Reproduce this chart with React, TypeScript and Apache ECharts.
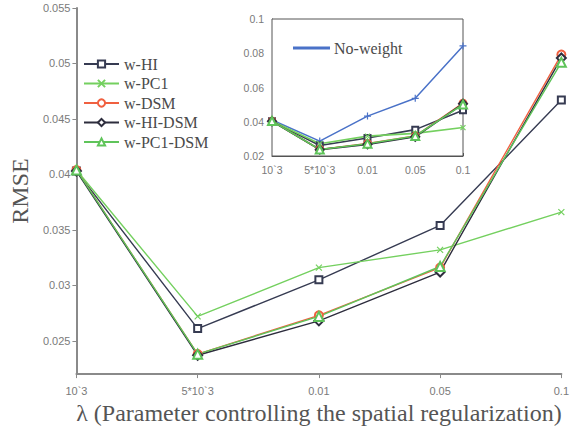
import React, { useEffect, useRef } from "react";
import * as echarts from "echarts";

const xLabels = ["10`3", "5*10`3", "0.01", "0.05", "0.1"];
const wHI = [0.0403, 0.0261, 0.0305, 0.0354, 0.0467];
const wPC1 = [0.0404, 0.0272, 0.0316, 0.0332, 0.0366];
const wDSM = [0.0404, 0.0238, 0.0273, 0.0316, 0.0508];
const wHIDSM = [0.0403, 0.0237, 0.0268, 0.0312, 0.0505];
const wPC1DSM = [0.0404, 0.0238, 0.0272, 0.0317, 0.0501];
const noWeight = [0.041, 0.0287, 0.0433, 0.0537, 0.0843];

const SERIF = "'Liberation Serif', 'Times New Roman', serif";
const SANS = "'Liberation Sans', Arial, sans-serif";

const CROSS = "path://M0,0L10,10M10,0L0,10";
const PLUS = "path://M5,0L5,10M0,5L10,5";

const defs = [
  { name: "w-HI", data: wHI, color: "#363b52", symbol: "emptyRect", size: 7 },
  { name: "w-PC1", data: wPC1, color: "#74d05f", symbol: CROSS, size: 6 },
  { name: "w-DSM", data: wDSM, color: "#f06040", symbol: "emptyCircle", size: 8 },
  { name: "w-HI-DSM", data: wHIDSM, color: "#2d2d3d", symbol: "emptyDiamond", size: 9 },
  { name: "w-PC1-DSM", data: wPC1DSM, color: "#5fc45a", symbol: "emptyTriangle", size: 9 },
];

export default function App() {
  const ref = useRef<HTMLDivElement>(null);
  useEffect(() => {
    const chart = echarts.init(ref.current!, null, { renderer: "svg" });
    const mainSeries = defs.map((d) => ({
      name: d.name,
      type: "line",
      xAxisIndex: 0,
      yAxisIndex: 0,
      data: d.data,
      symbol: d.symbol,
      symbolSize: d.size,
      lineStyle: { color: d.color, width: 1.4 },
      itemStyle: { color: d.color, borderColor: d.color, borderWidth: 1.2 },
      z: 3,
    }));
    const insetSeries = [
      {
        name: "No-weight",
        type: "line",
        xAxisIndex: 1,
        yAxisIndex: 1,
        data: noWeight,
        symbol: PLUS,
        symbolSize: 7,
        lineStyle: { color: "#4a72c8", width: 1.5 },
        itemStyle: { color: "#4a72c8", borderColor: "#4a72c8", borderWidth: 1.2 },
        z: 5,
      },
      ...defs.map((d) => ({
        name: d.name,
        type: "line",
        xAxisIndex: 1,
        yAxisIndex: 1,
        data: d.data,
        symbol: d.symbol,
        symbolSize: d.size - 1,
        lineStyle: { color: d.color, width: 1.6 },
        itemStyle: { color: d.color, borderColor: d.color, borderWidth: 1.2 },
        z: 5,
      })),
    ];
    chart.setOption({
      animation: false,
      backgroundColor: "#ffffff",
      grid: [
        { left: 67, right: 9, top: 8, bottom: 55 },
        {
          left: 272,
          top: 19,
          width: 191,
          height: 137,
          show: true,
          backgroundColor: "#ffffff",
          borderColor: "#555",
          borderWidth: 1,
          z: 4,
        },
      ],
      legend: [
        {
          data: defs.map((d) => d.name),
          orient: "vertical",
          left: 78,
          top: 51,
          itemWidth: 35,
          itemHeight: 9,
          itemGap: 3.5,
          textStyle: { fontFamily: SERIF, fontSize: 16, color: "#4a4a4a" },
        },
        {
          data: [{ name: "No-weight", icon: "rect" }],
          left: 288,
          top: 35,
          itemWidth: 35,
          itemHeight: 1.2,
          textStyle: { fontFamily: SERIF, fontSize: 16, color: "#4a4a4a" },
          z: 6,
        },
      ],
      xAxis: [
        {
          gridIndex: 0,
          type: "category",
          data: xLabels,
          boundaryGap: false,
          axisLine: { lineStyle: { color: "#8a8a8a", width: 2 } },
          axisTick: { show: true, length: 4, lineStyle: { color: "#8a8a8a" } },
          axisLabel: { color: "#7a7a7a", fontSize: 11, fontFamily: SANS, margin: 11 },
          splitLine: { show: false },
          name: "λ (Parameter controlling the spatial regularization)",
          nameLocation: "middle",
          nameGap: 23,
          nameTextStyle: { fontFamily: SERIF, fontSize: 24, color: "#555" },
        },
        {
          gridIndex: 1,
          type: "category",
          data: xLabels,
          boundaryGap: false,
          axisLine: { lineStyle: { color: "#555", width: 1 } },
          axisTick: { show: true, inside: true, length: 3, lineStyle: { color: "#555" } },
          axisLabel: { color: "#7a7a7a", fontSize: 10.5, fontFamily: SANS, margin: 8 },
          splitLine: { show: false },
        },
      ],
      yAxis: [
        {
          gridIndex: 0,
          type: "value",
          min: 0.022,
          max: 0.055,
          splitNumber: 7,
          axisLine: { show: true, lineStyle: { color: "#8a8a8a", width: 2 } },
          axisTick: { show: true, length: 4, lineStyle: { color: "#8a8a8a" } },
          axisLabel: {
            color: "#7a7a7a",
            fontSize: 11,
            fontFamily: SANS,
            margin: 6,
            showMinLabel: false,
            formatter: (v: number) => (Math.abs(v - 0.022) < 1e-9 ? "" : String(+v.toFixed(3))),
          },
          splitLine: { show: false },
          name: "RMSE",
          nameLocation: "middle",
          nameGap: 43,
          nameTextStyle: { fontFamily: SERIF, fontSize: 24, color: "#555" },
        },
        {
          gridIndex: 1,
          type: "value",
          min: 0.02,
          max: 0.1,
          interval: 0.02,
          axisLine: { show: true, lineStyle: { color: "#555", width: 1 } },
          axisTick: { show: true, inside: true, length: 3, lineStyle: { color: "#555" } },
          axisLabel: {
            color: "#7a7a7a",
            fontSize: 10.5,
            fontFamily: SANS,
            margin: 8,
            formatter: (v: number) => String(+v.toFixed(2)),
          },
          splitLine: { show: false },
        },
      ],
      series: [...mainSeries, ...insetSeries],
    });
    return () => chart.dispose();
  }, []);
  return (
    <div
      ref={ref}
      style={{ position: "fixed", left: 0, top: 0, width: 572, height: 430 }}
    />
  );
}
